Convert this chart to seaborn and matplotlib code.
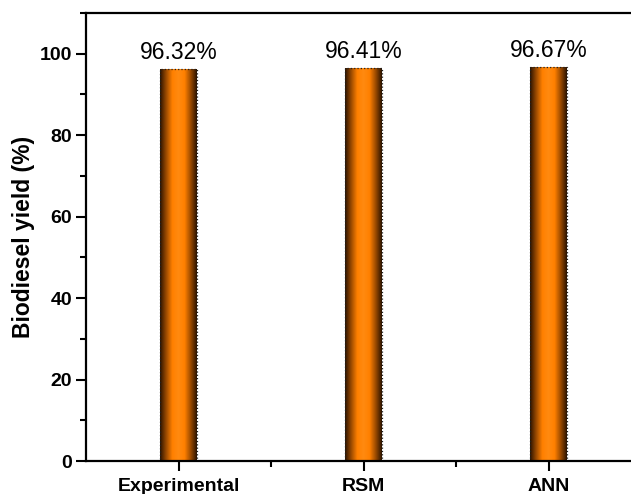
import numpy as np
import matplotlib
matplotlib.use("Agg")
import matplotlib.pyplot as plt
from matplotlib.colors import LinearSegmentedColormap
from matplotlib.ticker import MultipleLocator, AutoMinorLocator
import seaborn as sns
import pandas as pd

# data
methods = ["Experimental", "RSM", "ANN"]
yields = [96.32, 96.41, 96.67]
labels = ["96.32%", "96.41%", "96.67%"]

sns.set_style("ticks")
plt.rcParams['font.family'] = ['Liberation Sans', 'DejaVu Sans']
plt.rcParams.update({"text.color": "black", "axes.labelcolor": "black",
                     "xtick.color": "black", "ytick.color": "black"})

fig = plt.figure(figsize=(6.31, 4.94), dpi=100)
ax = fig.add_axes([86 / 631, 33 / 494, 555 / 631, 448 / 494])

df = pd.DataFrame({"method": methods, "yield": yields})
sns.barplot(data=df, x="method", y="yield", color="#ff8000", width=0.2,
            edgecolor="#222222", linewidth=0.9, linestyle=":", ax=ax)

# horizontal shading on each bar: dark edges, bright orange centre
cmap = LinearSegmentedColormap.from_list(
    "bar", ["#2a1300", "#9a4a00", "#ff8000", "#ff8a10", "#ff8000", "#9a4a00", "#2a1300"])
grad = np.linspace(0, 1, 256).reshape(1, -1)
for p in ax.patches:
    x0, w, h = p.get_x(), p.get_width(), p.get_height()
    im = ax.imshow(grad, cmap=cmap, aspect="auto", extent=[x0, x0 + w, 0, h],
                   zorder=p.get_zorder() + 0.1)
    im.set_clip_path(p)
    p.set_facecolor("none")
    p.set_zorder(p.get_zorder() + 0.2)

for i, (v, t) in enumerate(zip(yields, labels)):
    ax.text(i, v + 1.2, t, ha="center", va="bottom", fontsize=16.5)

ax.set_xlim(-0.5, 2.5)
ax.set_ylim(0, 110)
ax.yaxis.set_major_locator(MultipleLocator(20))
ax.yaxis.set_minor_locator(AutoMinorLocator(2))
ax.set_xticks([0.5, 1.5], minor=True)

ax.set_xlabel("")
ax.set_ylabel("Biodiesel yield (%)", fontsize=16.5, fontweight="bold", labelpad=3.5)
for lab in ax.get_xticklabels() + ax.get_yticklabels():
    lab.set_fontweight("bold")
    lab.set_fontsize(14)

ax.tick_params(which="major", direction="out", length=7, width=1.5, pad=3)
ax.tick_params(axis="x", which="major", pad=5)
ax.tick_params(which="minor", direction="out", length=4, width=1.5)
for s in ["left", "bottom", "top"]:
    ax.spines[s].set_linewidth(1.6)
    ax.spines[s].set_color("black")
ax.spines["right"].set_visible(False)
ax.spines["top"].set_visible(True)

fig.savefig("out.png", dpi=100)
